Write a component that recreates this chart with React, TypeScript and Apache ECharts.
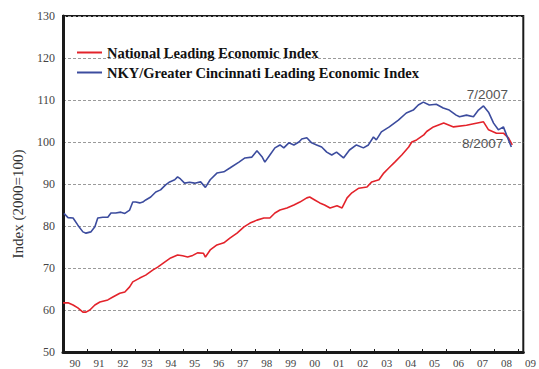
import React, { useEffect, useRef } from "react";
import * as echarts from "echarts";

const xTickLabels = ["90","91","92","93","94","95","96","97","98","99","00","01","02","03","04","05","06","07","08","09"];
const yTicks = [50, 60, 70, 80, 90, 100, 110, 120, 130];

const nationalName = "National Leading Economic Index";
const nkyName = "NKY/Greater Cincinnati Leading Economic Index";

const blueYears = [1990.04, 1990.21, 1990.42, 1990.62, 1990.83, 1990.96, 1991.16, 1991.33, 1991.45, 1991.66, 1991.87, 1992.0, 1992.2, 1992.41, 1992.58, 1992.78, 1992.91, 1993.03, 1993.2, 1993.33, 1993.45, 1993.66, 1993.87, 1994.07, 1994.28, 1994.45, 1994.66, 1994.78, 1994.9, 1995.07, 1995.28, 1995.49, 1995.74, 1995.94, 1996.14, 1996.42, 1996.71, 1996.96, 1997.34, 1997.59, 1997.88, 1998.09, 1998.3, 1998.42, 1998.63, 1998.84, 1999.05, 1999.21, 1999.42, 1999.63, 1999.84, 1999.96, 2000.17, 2000.37, 2000.58, 2000.79, 2001.0, 2001.21, 2001.41, 2001.7, 2001.95, 2002.24, 2002.53, 2002.74, 2002.95, 2003.07, 2003.28, 2003.61, 2003.99, 2004.32, 2004.61, 2004.82, 2005.03, 2005.28, 2005.57, 2005.86, 2006.11, 2006.4, 2006.54, 2006.83, 2007.12, 2007.33, 2007.54, 2007.75, 2007.96, 2008.16, 2008.37, 2008.5, 2008.7];
const blueValues = [83.0, 82.0, 81.9, 80.2, 78.6, 78.3, 78.6, 79.8, 81.9, 82.1, 82.1, 83.1, 83.1, 83.3, 83.0, 83.8, 85.7, 85.7, 85.5, 85.7, 86.2, 86.9, 88.1, 88.6, 89.8, 90.5, 91.0, 91.7, 91.2, 90.2, 90.4, 90.2, 90.5, 89.2, 91.0, 92.6, 92.9, 93.8, 95.2, 96.2, 96.4, 97.9, 96.5, 95.2, 96.9, 98.6, 99.3, 98.6, 99.8, 99.3, 100.0, 100.7, 101.0, 99.8, 99.3, 98.8, 97.6, 96.9, 97.6, 96.2, 98.1, 99.3, 98.6, 99.3, 101.2, 100.5, 102.4, 103.6, 105.2, 106.9, 107.6, 108.8, 109.5, 108.8, 109.0, 108.1, 107.6, 106.4, 106.0, 106.4, 106.0, 107.6, 108.6, 107.1, 104.5, 102.9, 103.6, 101.7, 98.8];

const redYears = [1990.0, 1990.21, 1990.42, 1990.62, 1990.83, 1990.96, 1991.12, 1991.33, 1991.54, 1991.87, 1992.08, 1992.37, 1992.58, 1992.78, 1992.91, 1993.2, 1993.45, 1993.74, 1993.95, 1994.24, 1994.49, 1994.78, 1994.99, 1995.2, 1995.41, 1995.61, 1995.86, 1995.94, 1996.14, 1996.42, 1996.71, 1996.96, 1997.26, 1997.55, 1997.8, 1998.09, 1998.38, 1998.63, 1998.84, 1999.05, 1999.34, 1999.63, 1999.88, 2000.17, 2000.29, 2000.5, 2000.71, 2000.91, 2001.14, 2001.43, 2001.64, 2001.85, 2002.05, 2002.34, 2002.68, 2002.88, 2003.18, 2003.38, 2003.59, 2003.84, 2004.13, 2004.42, 2004.55, 2004.75, 2005.05, 2005.17, 2005.45, 2005.88, 2006.29, 2006.83, 2007.54, 2007.75, 2008.08, 2008.37, 2008.58, 2008.74];
const redValues = [61.7, 61.7, 61.2, 60.5, 59.5, 59.5, 60.0, 61.2, 61.9, 62.4, 63.1, 64.0, 64.3, 65.5, 66.7, 67.6, 68.3, 69.5, 70.2, 71.4, 72.4, 73.1, 72.9, 72.6, 73.0, 73.6, 73.5, 72.6, 74.3, 75.5, 76.0, 77.1, 78.3, 79.8, 80.7, 81.4, 81.9, 81.9, 83.1, 83.8, 84.3, 85.0, 85.7, 86.7, 86.9, 86.2, 85.5, 85.0, 84.3, 84.8, 84.3, 86.7, 87.9, 89.0, 89.3, 90.5, 91.0, 92.6, 93.8, 95.2, 96.9, 98.8, 100.0, 100.5, 101.7, 102.5, 103.6, 104.5, 103.6, 104.0, 104.8, 102.9, 102.1, 102.1, 101.0, 99.3];

const annotationBlue = { label: "7/2007", x: 2007.7, y: 111.3 };
const annotationRed = { label: "8/2007", x: 2007.5, y: 99.6 };

const RED = "#e3232b";
const BLUE = "#3c4c9e";

export default function App() {
  const ref = useRef<HTMLDivElement>(null);
  useEffect(() => {
    if (!ref.current) return;
    const chart = echarts.init(ref.current, null, { renderer: "svg" });
    const blueData = blueYears.map((x, i) => [x, blueValues[i]]);
    const redData = redYears.map((x, i) => [x, redValues[i]]);
    const annoLabel = { show: true, position: "inside", formatter: "{b}", fontFamily: "Liberation Sans", fontSize: 13.5, color: "#555" };
    chart.setOption({
      animation: false,
      backgroundColor: "#ffffff",
      grid: { left: 63, right: 12, top: 16, bottom: 17, show: true, borderColor: "#1a1a1a", borderWidth: 2, backgroundColor: "transparent" },
      legend: {
        orient: "vertical",
        left: 72,
        top: 40,
        itemWidth: 25,
        itemHeight: 2,
        itemGap: 5,
        icon: "rect",
        textStyle: { fontFamily: "Liberation Serif", fontWeight: "bold", fontSize: 14.5, color: "#111" },
        data: [nationalName, nkyName],
      },
      xAxis: {
        type: "value",
        min: 1990,
        max: 2009.2,
        interval: 1,
        axisLine: { show: true, lineStyle: { color: "#1a1a1a", width: 3 } },
        axisTick: { show: true, inside: true, length: 3, lineStyle: { color: "#1a1a1a", width: 1 } },
        splitLine: { show: false },
        axisLabel: {
          margin: 5,
          padding: [0, 0, 0, 24],
          fontFamily: "Liberation Sans Narrow",
          fontSize: 11,
          color: "#444",
          showMinLabel: true,
          showMaxLabel: true,
          formatter: (v: number) => {
            if (Math.abs(v - Math.round(v)) > 1e-6) return "";
            const idx = Math.round(v) - 1990;
            return xTickLabels[idx] ?? "";
          },
        },
      },
      yAxis: {
        type: "value",
        min: yTicks[0],
        max: yTicks[yTicks.length - 1],
        interval: 10,
        name: "Index (2000=100)",
        nameLocation: "middle",
        nameRotate: 90,
        nameGap: 38,
        nameTextStyle: { fontFamily: "Liberation Serif", fontSize: 15, color: "#333", padding: [0, 40, 0, 0] },
        axisLine: { show: true, lineStyle: { color: "#1a1a1a", width: 3 } },
        axisTick: { show: false },
        splitLine: { show: true, lineStyle: { color: "#9a9a9a", type: [3, 2], width: 1 } },
        axisLabel: { margin: 8, fontFamily: "Liberation Serif", fontSize: 12, color: "#444" },
      },
      series: [
        {
          name: nationalName,
          type: "line",
          data: redData,
          showSymbol: false,
          lineStyle: { color: RED, width: 1.6 },
          itemStyle: { color: RED },
          z: 3,
          markPoint: {
            symbol: "circle",
            symbolSize: 0,
            label: annoLabel,
            data: [{ name: annotationRed.label, coord: [annotationRed.x, annotationRed.y] }],
          },
        },
        {
          name: nkyName,
          type: "line",
          data: blueData,
          showSymbol: false,
          lineStyle: { color: BLUE, width: 1.6 },
          itemStyle: { color: BLUE },
          z: 4,
          markPoint: {
            symbol: "circle",
            symbolSize: 0,
            label: annoLabel,
            data: [{ name: annotationBlue.label, coord: [annotationBlue.x, annotationBlue.y] }],
          },
        },
      ],
    });
    return () => chart.dispose();
  }, []);
  return <div ref={ref} style={{ width: 539, height: 369, position: "fixed", left: 0, top: 0 }} />;
}
